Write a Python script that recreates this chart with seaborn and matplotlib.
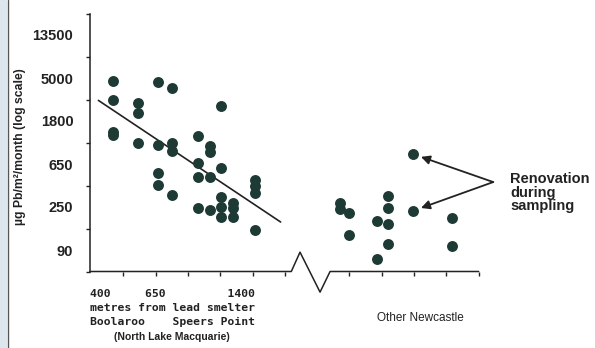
import numpy as np
import pandas as pd
import matplotlib.pyplot as plt
import seaborn as sns
from matplotlib.lines import Line2D
from matplotlib.patches import Rectangle

# North Lake Macquarie sites (Boolaroo -> Speers Point), position on distance axis
lake_x = [0.68, 0.68, 0.68, 0.68,
          1.46, 1.46, 1.46,
          2.09, 2.09, 2.09, 2.09,
          2.52, 2.52, 2.52, 2.52,
          3.31, 3.31, 3.31, 3.31,
          3.68, 3.68, 3.68, 3.68,
          4.02, 4.02, 4.02, 4.02, 4.02,
          4.40, 4.40, 4.40,
          5.08, 5.08, 5.08, 5.08]
lake_pb = [4630, 2950, 1395, 1300,
           2720, 2190, 1085,
           4490, 1030, 540, 408,
           3860, 1075, 900, 324,
           1275, 679, 493, 240,
           1000, 889, 493, 226,
           2590, 602, 308, 242, 196,
           268, 240, 196,
           459, 395, 340, 144]

# Other Newcastle sites
newcastle_x = [7.71, 7.71, 7.99, 7.99, 8.85, 8.85, 9.19, 9.19, 9.19, 9.19,
               9.97, 9.97, 11.18, 11.18]
newcastle_pb = [268, 233, 213, 128, 176, 73, 317, 240, 164, 104,
                837, 224, 189, 98]

# renovation during sampling
renov_x = [9.97, 9.97]
renov_pb = [837, 224]

ytick_labels = ["90", "250", "650", "1800", "5000", "13500"]
dist_labels = ["400", "650", "1400"]

ink = "#222222"
dot = "#1d3a35"

sns.set_style("white")
plt.rcParams['font.family'] = ['Liberation Sans', 'DejaVu Sans']

fig = plt.figure(figsize=(5.95, 3.48), dpi=100)
ax = fig.add_axes([90 / 595, 1 - 271.5 / 348, 400 / 595, 258 / 348])

df = pd.DataFrame({'x': lake_x + newcastle_x, 'pb': lake_pb + newcastle_pb})
sns.scatterplot(data=df, x='x', y='pb', s=62, color=dot, linewidth=0, ax=ax, zorder=3)

ax.set_yscale('log', base=np.e)
ax.set_ylim(np.exp(4), np.exp(10))
ax.set_xlim(-0.03, 12.35)

# trend line, least squares in log space
coef = np.polyfit(lake_x, np.log(lake_pb), 1)
fit_x = np.array([0.23, 5.87])
ax.plot(fit_x, np.exp(np.polyval(coef, fit_x)), color=ink, lw=1.2)

# y ticks: marks at whole ln steps, labels in between
ax.set_yticks(np.exp(np.arange(4, 11)), labels=[""] * 7)
ax.set_yticks(np.exp(np.arange(4.5, 10, 1)), labels=ytick_labels, minor=True)
ax.tick_params(axis='y', which='major', direction='out', length=3, width=1, color=ink, left=True)
ax.tick_params(axis='y', which='minor', length=0, pad=12, labelsize=10.5, labelcolor=ink)
for t in ax.get_yticklabels(minor=True):
    t.set_fontweight('bold')

ax.set_xticks([1, 2, 3, 4, 5, 6, 8, 9, 10, 11, 12], labels=[""] * 11)
ax.tick_params(axis='x', direction='out', length=3, width=1, color=ink, bottom=True)
ax.set_xlabel("")
ax.set_ylabel("")

for s in ['top', 'right', 'bottom']:
    ax.spines[s].set_visible(False)
ax.spines['left'].set_color(ink)
ax.spines['left'].set_linewidth(1.1)

# broken x axis
break_x = [-0.03, 6.2, 6.47, 7.09, 7.40, 12.0]
break_ln = [4, 4, 4.45, 3.52, 4, 4]
ax.plot(break_x, np.exp(break_ln), color=ink, lw=1.1, clip_on=False)

# renovation arrows
for rx, ry in zip(renov_x, renov_pb):
    ax.annotate("", xy=(rx, ry), xytext=(12.45, np.exp(6.08)),
                arrowprops=dict(arrowstyle='-|>', color=ink, lw=1.3,
                                shrinkA=0, shrinkB=6, mutation_scale=13),
                annotation_clip=False)
ax.text(12.97, np.exp(5.83), "Renovation\nduring\nsampling", ha='left', va='center',
        fontsize=10.5, fontweight='bold', color=ink, linespacing=0.95, clip_on=False)

fig.text(20 / 595, 1 - 147 / 348, "µg Pb/m²/month (log scale)", rotation=90,
         ha='center', va='center', fontsize=8.8, fontweight='semibold', color=ink)

mono = dict(family='DejaVu Sans Mono', fontweight='bold', fontsize=8.2, color=ink,
            ha='left', va='center')
line0 = dist_labels[0].ljust(8) + dist_labels[1].ljust(12) + dist_labels[2]
fig.text(90 / 595, 1 - 294 / 348, line0, **mono)
fig.text(90 / 595, 1 - 308 / 348, "metres from lead smelter", **mono)
fig.text(90 / 595, 1 - 322 / 348, "Boolaroo    Speers Point", **mono)
fig.text(172 / 595, 1 - 337 / 348, "(North Lake Macquarie)", ha='center', va='center',
         fontsize=7.5, fontweight='bold', color=ink)
fig.text(420 / 595, 1 - 318 / 348, "Other Newcastle", ha='center', va='center',
         fontsize=8.5, color=ink)

# scan border on the left
fig.add_artist(Rectangle((0, 0), 7 / 595, 1, transform=fig.transFigure,
                         color='#dce6ec', lw=0))
fig.add_artist(Line2D([8 / 595, 8 / 595], [0, 1], transform=fig.transFigure,
                      color='#555555', lw=1))

fig.savefig("out.png", dpi=100)
